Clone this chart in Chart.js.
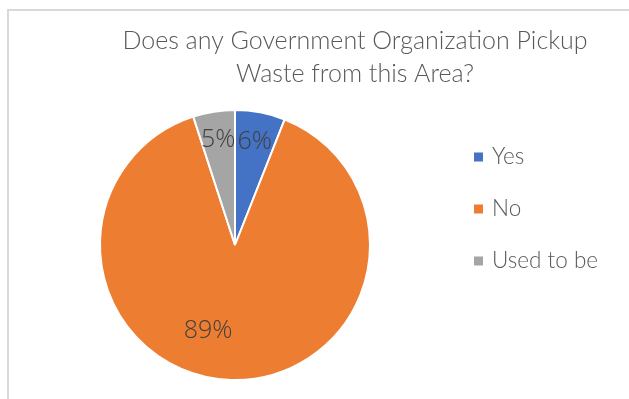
<!DOCTYPE html>
<html>
<head>
<meta charset="utf-8">
<script src="https://cdn.jsdelivr.net/npm/chart.js@4/dist/chart.umd.min.js"></script>
<style>
  html, body { margin: 0; padding: 0; background: #fff; }
  #wrap { position: relative; width: 629px; height: 399px; overflow: hidden; }
  #frame { position: absolute; left: 7px; top: 9px; width: 700px; height: 500px;
           border-left: 2px solid #d9d9d9; border-top: 2px solid #d9d9d9; }
  #pickup-pie { position: absolute; left: 0; top: 0; }
</style>
</head>
<body>
<div id="wrap">
  <div id="frame"></div>
  <canvas id="pickup-pie" width="629" height="399"></canvas>
</div>
<script>
const titleLines = ['Does any Government Organization Pickup', 'Waste from this Area?'];
const answers = ['Yes', 'No', 'Used to be'];
const sharePct = [6, 89, 5];
const sliceColors = ['#4472C4', '#ED7D31', '#A5A5A5'];

const textColor = '#595959';
const labelFont = '"Open Sans", "Liberation Sans", sans-serif';
const headFont = 'Lato, "Open Sans", sans-serif';

// title, legend and percentage labels are drawn by hand so they sit where wanted
const decorations = {
  id: 'decorations',
  afterDraw(chart, args, opts) {
    const ctx = chart.ctx;
    ctx.save();

    ctx.fillStyle = textColor;
    ctx.textAlign = 'center';
    ctx.textBaseline = 'alphabetic';
    ctx.font = `300 25px ${headFont}`;
    titleLines.forEach((line, i) => ctx.fillText(line, opts.titleX, opts.titleY + i * 33));

    // legend
    ctx.textAlign = 'left';
    ctx.textBaseline = 'middle';
    ctx.font = `300 22.5px ${headFont}`;
    chart.data.labels.forEach((label, i) => {
      const y = opts.legendY + i * opts.legendGap;
      ctx.fillStyle = sliceColors[i];
      ctx.fillRect(opts.legendX, y - 4.5, 9, 9);
      ctx.fillStyle = textColor;
      ctx.fillText(label, opts.legendX + 18, y);
    });

    // value labels on the slices
    const meta = chart.getDatasetMeta(0);
    ctx.fillStyle = '#404040';
    ctx.textAlign = 'center';
    ctx.font = `300 25px ${labelFont}`;
    meta.data.forEach((arc, i) => {
      const p = arc.getProps(['x', 'y', 'startAngle', 'endAngle', 'outerRadius'], true);
      const mid = (p.startAngle + p.endAngle) / 2 + opts.angleShift[i];
      const r = p.outerRadius * opts.radiusFactor[i];
      const v = chart.data.datasets[0].data[i];
      ctx.fillText(v + '%', p.x + Math.cos(mid) * r, p.y + Math.sin(mid) * r);
    });

    ctx.restore();
  }
};

new Chart(document.getElementById('pickup-pie'), {
  type: 'pie',
  data: {
    labels: answers,
    datasets: [{
      data: sharePct,
      backgroundColor: sliceColors,
      borderColor: '#ffffff',
      borderWidth: 2
    }]
  },
  options: {
    responsive: false,
    animation: false,
    layout: { padding: { left: 99, right: 258, top: 109, bottom: 18 } },
    plugins: {
      legend: { display: false },
      title: { display: false },
      tooltip: { enabled: false },
      decorations: {
        titleX: 355,
        titleY: 49,
        legendX: 474,
        legendY: 157,
        legendGap: 52,
        angleShift: [0, 0.27, 0],
        radiusFactor: [0.78, 0.67, 0.79]
      }
    }
  },
  plugins: [decorations]
});
</script>
</body>
</html>
